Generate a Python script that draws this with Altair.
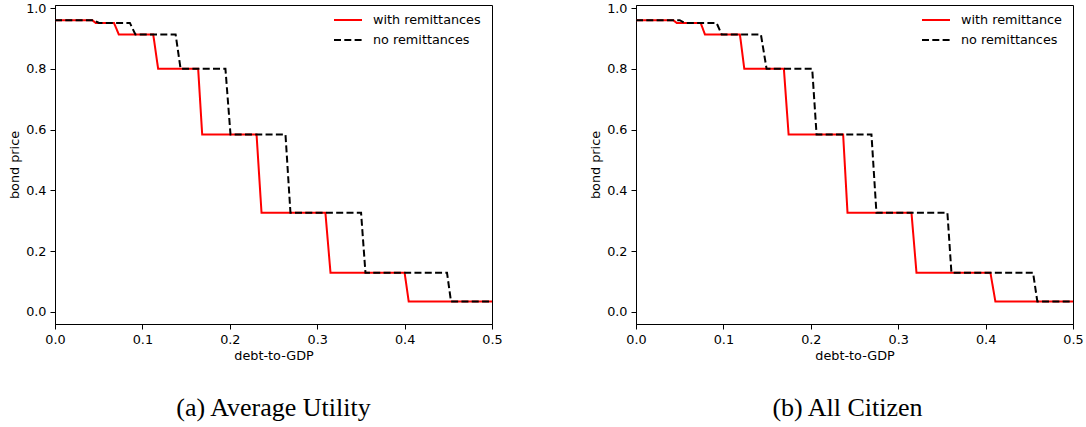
import altair as alt
import pandas as pd

# ---- data ----
levels = [0.96, 0.96, 0.951, 0.951, 0.913, 0.913, 0.80, 0.80, 0.584, 0.584,
          0.326, 0.326, 0.129, 0.129, 0.034, 0.034]

a_with_x = [0, 0.0427, 0.0465, 0.0675, 0.073, 0.1124, 0.118, 0.1638, 0.1684,
            0.2306, 0.2363, 0.3094, 0.3152, 0.400, 0.4047, 0.5]
a_no_x = [0, 0.0446, 0.0503, 0.0857, 0.092, 0.138, 0.1437, 0.195, 0.2008,
          0.2637, 0.2694, 0.3502, 0.3552, 0.4485, 0.4531, 0.5]

b_with_x = [0, 0.0427, 0.0465, 0.074, 0.0789, 0.1189, 0.1239, 0.1692, 0.1746,
            0.237, 0.2420, 0.3152, 0.3209, 0.4055, 0.4112, 0.5]
b_no_x = [0, 0.050, 0.056, 0.0922, 0.098, 0.1429, 0.1494, 0.2016, 0.2066,
          0.2694, 0.2751, 0.3563, 0.3609, 0.4543, 0.4592, 0.5]

a_labels = ["with remittances", "no remittances"]
b_labels = ["with remittance", "no remittances"]
captions = ["(a)  Average Utility", "(b)  All Citizen"]
x_ticks = [0.0, 0.1, 0.2, 0.3, 0.4, 0.5]
y_ticks = [0.0, 0.2, 0.4, 0.6, 0.8, 1.0]

FONT = "DejaVu Sans"
FS = 12.8


def frame(xs_with, xs_no, labels):
    rows = []
    for i, (x, y) in enumerate(zip(xs_with, levels)):
        rows.append({"x": x, "y": y, "series": labels[0], "o": i})
    for i, (x, y) in enumerate(zip(xs_no, levels)):
        rows.append({"x": x, "y": y, "series": labels[1], "o": i})
    return pd.DataFrame(rows)


def panel(df, labels, caption, dx, legx):
    xenc = alt.X("x:Q", scale=alt.Scale(domain=[0, 0.5], nice=False, zero=False),
                 axis=alt.Axis(values=x_ticks, format=".1f", title="debt-to-GDP",
                               labelFlush=False))
    yenc = alt.Y("y:Q", scale=alt.Scale(domain=[-0.04, 1.01], nice=False, zero=False),
                 axis=alt.Axis(values=y_ticks, format=".1f", title="bond price",
                               labelFlush=False))
    leg = alt.Legend(title=None, orient="none", legendX=legx, legendY=5, padding=0,
                     symbolType="stroke", symbolSize=784, symbolStrokeWidth=2,
                     clipHeight=20, labelOffset=10, rowPadding=0,
                     labelFontSize=FS, labelFont=FONT, labelColor="black")
    color = alt.Color("series:N", scale=alt.Scale(domain=labels, range=["#ff0000", "#000000"]),
                      legend=leg)
    dash = alt.StrokeDash("series:N", scale=alt.Scale(domain=labels, range=[[1, 0], [7, 3.3]]),
                          legend=leg)
    base = alt.Chart(df)
    red = base.transform_filter(alt.datum.series == labels[0]).mark_line(strokeWidth=2).encode(
        x=xenc, y=yenc, color=color, strokeDash=dash, order="o:Q")
    blk = base.transform_filter(alt.datum.series == labels[1]).mark_line(strokeWidth=2).encode(
        x=xenc, y=yenc, color=color, strokeDash=dash, order="o:Q")
    return alt.layer(red, blk).properties(
        width=437, height=319,
        title=alt.TitleParams(caption, orient="bottom", anchor="middle", frame="group",
                              font="Liberation Serif", fontSize=26, fontWeight="normal",
                              color="black", offset=32, dx=dx),
    )


left = panel(frame(a_with_x, a_no_x, a_labels), a_labels, captions[0], 0, 278)
right = panel(frame(b_with_x, b_no_x, b_labels), b_labels, captions[1], -7, 285)

chart = alt.hconcat(left, right, spacing=86).resolve_scale(
    color="independent", strokeDash="independent"
).properties(
    padding={"left": 8, "top": 1, "right": 2, "bottom": 2}
).configure_view(
    stroke="black", strokeWidth=1
).configure_axis(
    grid=False, domainColor="black", tickColor="black", labelColor="black",
    titleColor="black", labelFont=FONT, titleFont=FONT, labelFontSize=FS,
    titleFontSize=FS, titleFontWeight="normal", tickSize=5, labelPadding=4,
    domainWidth=1, tickWidth=1
).configure_axisX(titlePadding=4).configure_axisY(titlePadding=4)

chart.save("out.html", embed_options={"renderer": "svg", "actions": False})
